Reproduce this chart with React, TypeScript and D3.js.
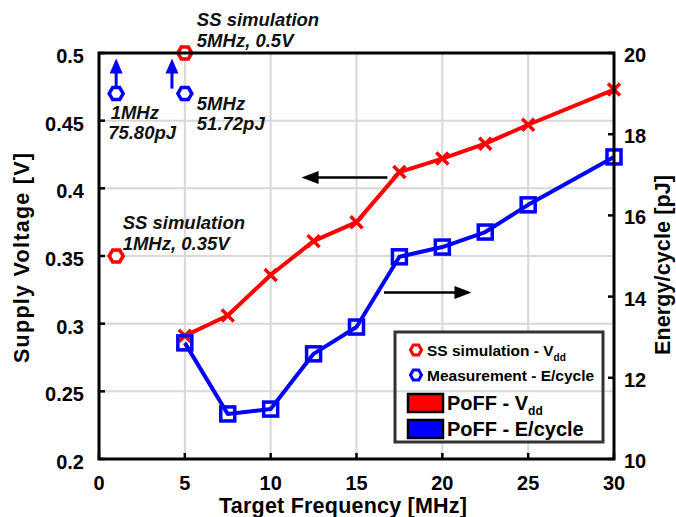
import * as d3 from 'd3';

// PoFF sweep (target frequency in MHz)
const freq = [5, 7.5, 10, 12.5, 15, 17.5, 20, 22.5, 25, 30];
const poffVdd = [0.291, 0.306, 0.336, 0.361, 0.375, 0.412, 0.422, 0.433, 0.447, 0.473];
const poffEnergy = [12.86, 11.11, 11.23, 12.59, 13.25, 14.98, 15.22, 15.59, 16.26, 17.44];

// steady-state simulation points
const ssFreq = [1, 5];
const ssVdd = [0.35, 0.5];

// measured energy points (off scale, drawn at the top with an up arrow)
const measFreq = [1, 5];
const measShown = [19, 19];
const measArrowFreq = [1, 4.25];

const xTicks = [0, 5, 10, 15, 20, 25, 30];
const vTicks = [0.2, 0.25, 0.3, 0.35, 0.4, 0.45, 0.5];
const vTickLabels = ['0.2', '0.25', '0.3', '0.35', '0.4', '0.45', '0.5'];
const eTicks = [10, 12, 14, 16, 18, 20];

const W = 676;
const H = 517;
const m = { left: 99, right: 62, top: 53, bottom: 58 };

const FONT = '"Liberation Sans", Arial, Helvetica, sans-serif';
const RED = '#ff0000';
const BLUE = '#0000ff';

export default function App() {
    const x = d3.scaleLinear().domain([0, 30]).range([m.left, W - m.right]);
    const yV = d3.scaleLinear().domain([0.2, 0.5]).range([H - m.bottom, m.top]);
    const yE = d3.scaleLinear().domain([10, 20]).range([H - m.bottom, m.top]);

    const x0 = m.left, x1 = W - m.right, y0 = H - m.bottom, y1 = m.top;

    const vddLine = d3.line<number>().x((_, i) => x(freq[i])).y(d => yV(d))(poffVdd) || '';
    const eLine = d3.line<number>().x((_, i) => x(freq[i])).y(d => yE(d))(poffEnergy) || '';

    const hex = (rx: number, ry: number) =>
        `M${-rx},0L${-rx / 2},${-ry}L${rx / 2},${-ry}L${rx},0L${rx / 2},${ry}L${-rx / 2},${ry}Z`;

    // direction arrows (data coords)
    const leftArrow = { from: 16.8, to: 11.8, v: 0.408 };
    const rightArrow = { from: 16.6, to: 21.7, e: 14.1 };

    const annot = { fontFamily: FONT, fontWeight: 'bold', fontStyle: 'italic', fontSize: 18.5 } as const;

    // legend box
    const lg = { x: 395, y: 332, w: 208, h: 110 };

    return (
        <svg width={W} height={H} style={{ position: 'absolute', left: 0, top: 0, background: '#fff' }}>
            <rect width={W} height={H} fill="#fff" />
            {/* vertical grid */}
            {xTicks.slice(1, -1).map(t => (
                <line key={'gx' + t} x1={x(t)} x2={x(t)} y1={y0} y2={y1} stroke="#d8d8d8" strokeWidth={2} />
            ))}
            {/* legend background sits under horizontal grid */}
            <rect x={lg.x} y={lg.y} width={lg.w} height={lg.h} fill="#fff" />
            {vTicks.slice(1, -1).map(t => (
                <line key={'gy' + t} x1={x0} x2={x1} y1={yV(t)} y2={yV(t)} stroke="#d8d8d8" strokeWidth={2} />
            ))}

            {/* PoFF lines */}
            <path d={vddLine} fill="none" stroke={RED} strokeWidth={4} strokeLinejoin="round" />
            <path d={eLine} fill="none" stroke={BLUE} strokeWidth={4} strokeLinejoin="round" />
            {poffVdd.map((v, i) => (
                <g key={'xm' + i} transform={`translate(${x(freq[i])},${yV(v)})`} stroke={RED} strokeWidth={3.5}>
                    <line x1={-6} y1={-6} x2={6} y2={6} />
                    <line x1={-6} y1={6} x2={6} y2={-6} />
                </g>
            ))}
            {poffEnergy.map((e, i) => (
                <rect key={'sq' + i} x={x(freq[i]) - 7} y={yE(e) - 7} width={14} height={14}
                    fill="none" stroke={BLUE} strokeWidth={3.5} />
            ))}

            {/* SS simulation and measurement markers */}
            {ssVdd.map((v, i) => (
                <path key={'ss' + i} d={hex(7, 6)} transform={`translate(${x(ssFreq[i])},${yV(v)})`}
                    fill="#fff" stroke={RED} strokeWidth={3.5} />
            ))}
            {measShown.map((e, i) => (
                <path key={'me' + i} d={hex(7, 6)} transform={`translate(${x(measFreq[i])},${yE(e)})`}
                    fill="#fff" stroke={BLUE} strokeWidth={3.5} />
            ))}
            {measArrowFreq.map((f, i) => {
                const ax = x(f), ay = yE(measShown[i]);
                return (
                    <g key={'ua' + i}>
                        <line x1={ax} x2={ax} y1={ay - 5} y2={ay - 21} stroke={BLUE} strokeWidth={3} />
                        <path d={`M${ax - 6.5},${ay - 20}L${ax},${ay - 35}L${ax + 6.5},${ay - 20}Z`} fill={BLUE} />
                    </g>
                );
            })}

            {/* black direction arrows */}
            <line x1={x(leftArrow.from)} x2={x(leftArrow.to) + 14} y1={yV(leftArrow.v)} y2={yV(leftArrow.v)}
                stroke="#000" strokeWidth={2.5} />
            <path d={`M${x(leftArrow.to)},${yV(leftArrow.v)}l17,-6.5l0,13Z`} fill="#000" />
            <line x1={x(rightArrow.from)} x2={x(rightArrow.to) - 14} y1={yE(rightArrow.e)} y2={yE(rightArrow.e)}
                stroke="#000" strokeWidth={2.5} />
            <path d={`M${x(rightArrow.to)},${yE(rightArrow.e)}l-17,-6.5l0,13Z`} fill="#000" />

            {/* annotations */}
            <g {...annot} fill="#111">
                <text x={x(5) + 12} y={yV(0.5) - 27}>SS simulation</text>
                <text x={x(5) + 12} y={yV(0.5) - 6}>5MHz, 0.5V</text>
                <text x={x(1) + 6.5} y={yV(0.35) - 27}>SS simulation</text>
                <text x={x(1) + 6.5} y={yV(0.35) - 6}>1MHz, 0.35V</text>
                <text x={x(1) - 5.5} y={yE(19) + 25}>1MHz</text>
                <text x={x(1) - 8} y={yE(19) + 45}>75.80pJ</text>
                <text x={x(5) + 12} y={yE(19) + 16}>5MHz</text>
                <text x={x(5) + 12} y={yE(19) + 36}>51.72pJ</text>
            </g>

            {/* axes box */}
            <rect x={x0} y={y1} width={x1 - x0} height={y0 - y1} fill="none" stroke="#000" strokeWidth={3} />
            {xTicks.map(t => (
                <line key={'tx' + t} x1={x(t)} x2={x(t)} y1={y0} y2={y0 - 6} stroke="#000" strokeWidth={2.5} />
            ))}
            {vTicks.map(t => (
                <line key={'tv' + t} x1={x0} x2={x0 + 6} y1={yV(t)} y2={yV(t)} stroke="#000" strokeWidth={2.5} />
            ))}
            {eTicks.map(t => (
                <line key={'te' + t} x1={x1} x2={x1 - 6} y1={yE(t)} y2={yE(t)} stroke="#000" strokeWidth={2.5} />
            ))}

            <g fontFamily={FONT} fontWeight="bold" fontSize={20} fill="#000">
                {xTicks.map(t => (
                    <text key={'lx' + t} x={x(t)} y={y0 + 31} textAnchor="middle">{t}</text>
                ))}
                {vTicks.map((t, i) => (
                    <text key={'lv' + t} x={x0 - 15} y={yV(t) + 10} textAnchor="end">{vTickLabels[i]}</text>
                ))}
                {eTicks.map(t => (
                    <text key={'le' + t} x={x1 + 10} y={yE(t) + 9}>{t}</text>
                ))}
                <g fontSize={21.5}>
                    <text x={343} y={H - 4} textAnchor="middle" textLength={248} lengthAdjust="spacing">Target Frequency [MHz]</text>
                    <text transform={`translate(29,258) rotate(-90)`} textAnchor="middle" textLength={210} lengthAdjust="spacing">Supply Voltage [V]</text>
                    <text transform={`translate(670,265) rotate(-90)`} textAnchor="middle" textLength={180} lengthAdjust="spacing">Energy/cycle [pJ]</text>
                </g>
            </g>

            {/* legend */}
            <g fontFamily={FONT} fontWeight="bold" fill="#000">
                <rect x={lg.x} y={lg.y} width={lg.w} height={lg.h} fill="none" stroke="#333" strokeWidth={3} />
                <path d={hex(5.5, 5)} transform={`translate(${lg.x + 21},${lg.y + 18})`} fill="#fff" stroke={RED} strokeWidth={3} />
                <text x={lg.x + 32} y={lg.y + 24} fontSize={15.5}>SS simulation - V<tspan dy={5} fontSize={10}>dd</tspan></text>
                <path d={hex(5.5, 5)} transform={`translate(${lg.x + 21},${lg.y + 43})`} fill="#fff" stroke={BLUE} strokeWidth={3} />
                <text x={lg.x + 32} y={lg.y + 49} fontSize={15.5}>Measurement - E/cycle</text>
                <rect x={lg.x + 13} y={lg.y + 62} width={35} height={18} fill={RED} stroke="#000" strokeWidth={2.5} />
                <text x={lg.x + 52} y={lg.y + 78} fontSize={20}>PoFF - V<tspan dy={5} fontSize={12}>dd</tspan></text>
                <rect x={lg.x + 13} y={lg.y + 88} width={35} height={18} fill={BLUE} stroke="#000" strokeWidth={2.5} />
                <text x={lg.x + 52} y={lg.y + 104} fontSize={20}>PoFF - E/cycle</text>
            </g>
        </svg>
    );
}
